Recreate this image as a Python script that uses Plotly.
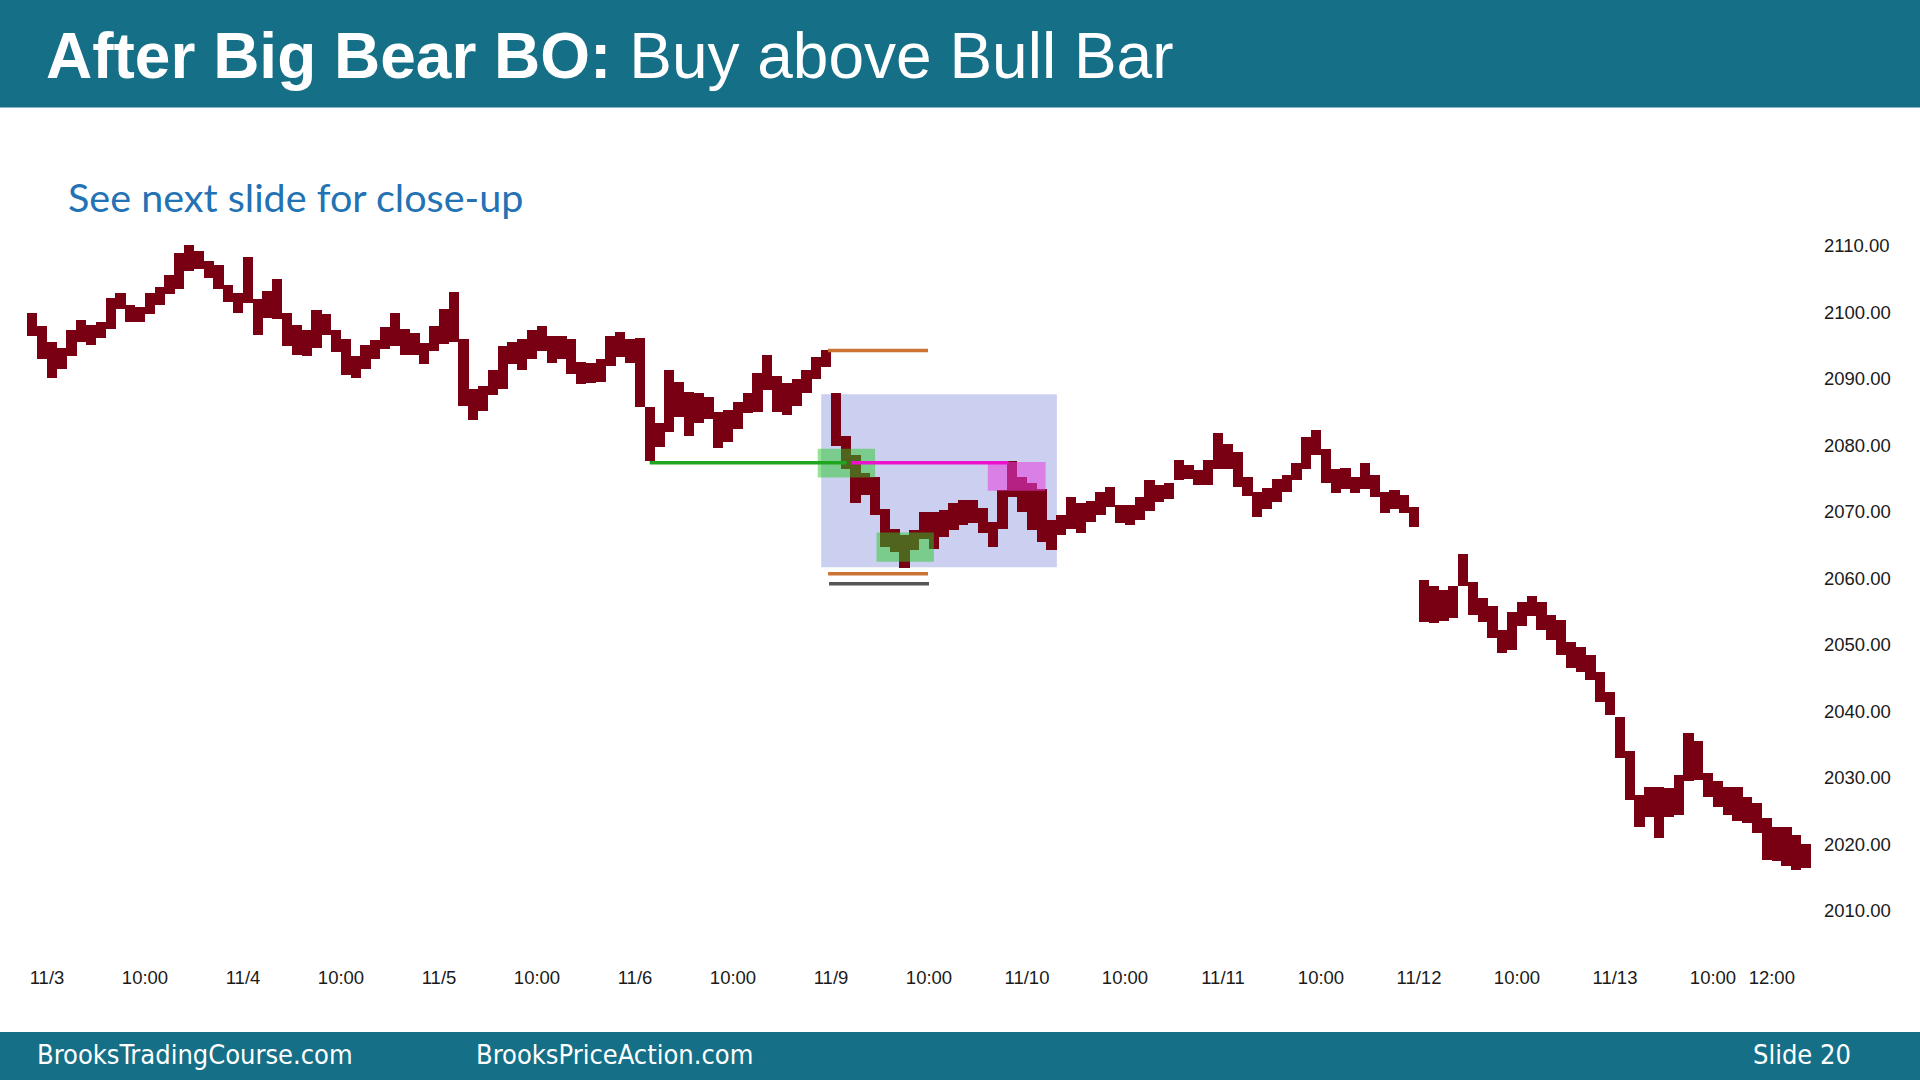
import plotly.graph_objects as go

# ---------------- data ----------------
DAYS = ['11/3', '11/4', '11/5', '11/6', '11/9', '11/10', '11/11', '11/12', '11/13']
BARS_PER_DAY = 20          # 20-minute bars
BAR_MINUTES = 20
SESSION_START_MIN = 6 * 60 + 40
TIME_TICKS = [('10:00', d) for d in range(len(DAYS))] + [('12:00', len(DAYS) - 1)]
Y_TICKS = [2010, 2020, 2030, 2040, 2050, 2060, 2070, 2080, 2090, 2100, 2110]

# tail of the prior session
hi_pre = [2099.9, 2098.0]
lo_pre = [2096.5, 2093.0]

hi_1103 = [2095.6, 2094.6, 2097.4, 2098.9, 2098.1, 2098.6, 2102.2, 2103.0, 2101.2, 2100.8,
           2102.9, 2103.9, 2105.6, 2108.9, 2110.1, 2109.2, 2107.8, 2107.2, 2104.2, 2103.0]
lo_1103 = [2090.1, 2091.5, 2093.5, 2095.6, 2095.1, 2096.2, 2097.5, 2100.5, 2098.5, 2098.6,
           2099.8, 2101.2, 2102.8, 2103.5, 2106.2, 2106.5, 2105.2, 2103.5, 2101.6, 2100.0]

hi_1104 = [2108.4, 2102.0, 2103.2, 2105.0, 2100.0, 2098.1, 2097.4, 2100.4, 2099.8, 2097.3,
           2096.0, 2093.4, 2095.1, 2095.8, 2097.8, 2099.9, 2097.5, 2096.9, 2095.4, 2098.0]
lo_1104 = [2101.5, 2096.6, 2099.2, 2099.0, 2095.0, 2093.6, 2093.5, 2094.6, 2096.6, 2094.1,
           2090.6, 2090.1, 2091.5, 2093.0, 2094.5, 2095.0, 2093.6, 2093.6, 2092.3, 2094.2]

hi_1105 = [2100.5, 2103.1, 2096.0, 2088.5, 2089.0, 2091.4, 2095.0, 2095.6, 2096.0, 2097.4,
           2097.9, 2096.4, 2096.5, 2096.0, 2092.6, 2092.4, 2093.0, 2096.5, 2097.0, 2096.0]
lo_1105 = [2095.2, 2095.5, 2086.0, 2083.8, 2085.2, 2087.6, 2088.5, 2092.2, 2091.4, 2093.0,
           2094.2, 2092.4, 2093.0, 2090.8, 2089.3, 2089.4, 2089.6, 2091.9, 2093.3, 2092.4]

hi_1106 = [2096.2, 2085.8, 2083.4, 2091.4, 2089.5, 2088.0, 2087.9, 2087.3, 2085.0, 2085.3,
           2086.5, 2087.9, 2090.9, 2093.6, 2090.5, 2089.4, 2090.0, 2091.4, 2093.3, 2094.3]
lo_1106 = [2085.8, 2077.6, 2079.8, 2082.0, 2084.3, 2081.5, 2083.4, 2084.0, 2079.6, 2080.5,
           2082.5, 2084.9, 2085.0, 2088.3, 2085.0, 2084.6, 2086.0, 2087.9, 2090.0, 2091.8]

hi_1109 = [2087.9, 2081.5, 2078.5, 2075.9, 2075.2, 2070.5, 2067.5, 2066.5, 2067.3, 2070.0,
           2070.0, 2070.3, 2071.4, 2071.8, 2071.8, 2070.6, 2068.5, 2073.3, 2077.6, 2075.3]
lo_1109 = [2080.0, 2076.5, 2071.4, 2072.5, 2069.5, 2064.7, 2064.0, 2061.6, 2064.3, 2066.0,
           2064.5, 2066.3, 2067.3, 2068.0, 2068.3, 2066.8, 2064.7, 2067.5, 2072.2, 2070.0]

hi_1110 = [2074.3, 2073.5, 2068.8, 2069.5, 2072.3, 2071.3, 2071.6, 2073.0, 2073.8, 2071.0,
           2071.0, 2072.3, 2074.8, 2074.0, 2074.3, 2077.8, 2077.1, 2076.3, 2077.8, 2081.9]
lo_1110 = [2067.3, 2065.5, 2064.3, 2066.5, 2067.5, 2066.9, 2068.5, 2069.5, 2070.8, 2068.3,
           2068.0, 2068.8, 2070.2, 2071.5, 2072.0, 2074.8, 2074.9, 2074.0, 2074.1, 2076.5]

hi_1111 = [2080.3, 2079.0, 2075.3, 2073.0, 2073.6, 2075.0, 2075.5, 2077.3, 2081.3, 2082.3,
           2079.5, 2076.4, 2076.6, 2075.3, 2077.3, 2075.5, 2073.0, 2073.3, 2072.6, 2070.8]
lo_1111 = [2076.5, 2073.8, 2072.4, 2069.3, 2070.5, 2071.5, 2073.0, 2074.8, 2076.5, 2078.5,
           2074.4, 2072.8, 2073.5, 2072.8, 2073.5, 2072.3, 2069.8, 2070.5, 2069.8, 2067.8]

hi_1112 = [2059.8, 2058.8, 2058.3, 2058.8, 2063.7, 2059.5, 2057.0, 2055.8, 2052.3, 2055.0,
           2056.5, 2057.3, 2056.5, 2054.5, 2053.8, 2050.5, 2049.7, 2048.5, 2046.0, 2043.0]
lo_1112 = [2053.5, 2053.3, 2053.6, 2054.0, 2058.8, 2054.5, 2053.5, 2051.0, 2048.8, 2049.2,
           2052.8, 2054.3, 2052.3, 2050.8, 2048.5, 2046.5, 2046.0, 2044.8, 2041.5, 2039.5]

hi_1113 = [2039.2, 2034.0, 2027.5, 2028.7, 2028.7, 2028.5, 2030.5, 2036.7, 2035.5, 2030.7,
           2029.5, 2028.7, 2028.7, 2027.2, 2026.2, 2024.0, 2022.7, 2022.7, 2021.5, 2020.0]
lo_1113 = [2033.0, 2026.7, 2022.7, 2024.2, 2021.0, 2024.2, 2024.5, 2029.5, 2029.7, 2027.2,
           2025.7, 2024.5, 2023.5, 2023.2, 2021.7, 2017.7, 2017.5, 2016.7, 2016.2, 2016.5]

# annotation levels (price) and spans (bar-index units)
LEVEL_BO_LOW = 2077.4        # green / magenta line
LEVEL_TOP_ORANGE = 2094.3
LEVEL_BOT_ORANGE = 2060.7
LEVEL_GRAY = 2059.2
BLUE_BOX = (78.5, 102.55, 2061.7, 2087.7)
GREEN_BOX_1 = (78.15, 84.0, 2075.2, 2079.5)
GREEN_BOX_2 = (84.15, 90.0, 2062.5, 2066.9)
PINK_BOX = (95.5, 101.4, 2073.2, 2077.5)
GREEN_LINE_SPAN = (61.0, 81.1)
PINK_LINE_SPAN = (81.6, 97.6)
ORANGE_SPAN = (79.2, 89.4)
GRAY_SPAN = (79.3, 89.5)

# ---------------- build ----------------
highs = hi_pre + hi_1103 + hi_1104 + hi_1105 + hi_1106 + hi_1109 + hi_1110 + hi_1111 + hi_1112 + hi_1113
lows = lo_pre + lo_1103 + lo_1104 + lo_1105 + lo_1106 + lo_1109 + lo_1110 + lo_1111 + lo_1112 + lo_1113
x_idx = [i - len(hi_pre) for i in range(len(highs))]


def time_x(day, hhmm):
    h, m = map(int, hhmm.split(':'))
    return day * BARS_PER_DAY + (h * 60 + m - SESSION_START_MIN) / BAR_MINUTES - 0.5


tickvals, ticktext = [], []
for d, lab in enumerate(DAYS):
    tickvals.append(d * BARS_PER_DAY - 0.5)
    ticktext.append(lab)
for lab, d in TIME_TICKS:
    tickvals.append(time_x(d, lab))
    ticktext.append(lab)

BAR_COLOR = '#780012'
TEAL = '#146F87'
FOOT_FONT = 'DejaVu Sans Condensed, Liberation Sans Narrow, Lato, sans-serif'

fig = go.Figure()
fig.add_trace(go.Bar(
    x=x_idx, base=lows, y=[h - l for h, l in zip(highs, lows)],
    width=1.03, marker=dict(color=BAR_COLOR, line=dict(width=0)),
    hoverinfo='skip', showlegend=False))

# plot-area geometry in pixels
L, R, T, B = 20, 1815, 180, 958
W, H = 1920, 1080


def px(xp):
    return (xp - L) / (R - L)


def py(yp):
    return (B - yp) / (B - T)


shapes = []
# blue zone (behind bars)
x0, x1, y0, y1 = BLUE_BOX
shapes.append(dict(type='rect', xref='x', yref='y', x0=x0, x1=x1, y0=y0, y1=y1,
                   fillcolor='rgba(140,150,222,0.45)', line=dict(width=0), layer='below'))
for (x0, x1, y0, y1), col in [(GREEN_BOX_1, 'rgba(40,200,40,0.5)'),
                              (GREEN_BOX_2, 'rgba(40,200,40,0.5)'),
                              (PINK_BOX, 'rgba(232,60,222,0.55)')]:
    shapes.append(dict(type='rect', xref='x', yref='y', x0=x0, x1=x1, y0=y0, y1=y1,
                       fillcolor=col, line=dict(width=0), layer='above'))
for (x0, x1), lvl, col in [(GREEN_LINE_SPAN, LEVEL_BO_LOW, '#1FA51F'),
                           (PINK_LINE_SPAN, LEVEL_BO_LOW, '#EE11CC'),
                           (ORANGE_SPAN, LEVEL_TOP_ORANGE, '#CC7433'),
                           (ORANGE_SPAN, LEVEL_BOT_ORANGE, '#CC7433'),
                           (GRAY_SPAN, LEVEL_GRAY, '#555555')]:
    shapes.append(dict(type='line', xref='x', yref='y', x0=x0, x1=x1, y0=lvl, y1=lvl,
                       line=dict(color=col, width=3.5), layer='above'))
# header and footer bands
shapes.append(dict(type='rect', xref='paper', yref='paper', x0=px(0), x1=px(W), y0=py(107.5), y1=py(0),
                   fillcolor=TEAL, line=dict(width=0), layer='above'))
shapes.append(dict(type='rect', xref='paper', yref='paper', x0=px(0), x1=px(W), y0=py(H), y1=py(1032),
                   fillcolor=TEAL, line=dict(width=0), layer='above'))

annotations = [
    dict(text='<b>After Big Bear BO:</b> Buy above Bull Bar', x=px(44), y=py(56),
         xref='paper', yref='paper', xanchor='left', yanchor='middle', showarrow=False,
         font=dict(family='Liberation Sans, Arial, sans-serif', size=64, color='white')),
    dict(text='See next slide for close-up', x=px(66), y=py(196), xref='paper', yref='paper',
         xanchor='left', yanchor='middle', showarrow=False,
         font=dict(family='Lato, sans-serif', size=39.5, color='#2272B4')),
    dict(text='BrooksTradingCourse.com', x=px(35), y=py(1054), xref='paper', yref='paper',
         xanchor='left', yanchor='middle', showarrow=False,
         font=dict(family=FOOT_FONT, size=27, color='white')),
    dict(text='BrooksPriceAction.com', x=px(474), y=py(1054), xref='paper', yref='paper',
         xanchor='left', yanchor='middle', showarrow=False,
         font=dict(family=FOOT_FONT, size=27, color='white')),
    dict(text='Slide', x=px(1751), y=py(1054), xref='paper', yref='paper',
         xanchor='left', yanchor='middle', showarrow=False,
         font=dict(family=FOOT_FONT, size=27, color='white')),
    dict(text='20', x=px(1853), y=py(1054), xref='paper', yref='paper',
         xanchor='right', yanchor='middle', showarrow=False,
         font=dict(family=FOOT_FONT, size=27, color='white')),
]

fig.update_layout(
    width=W, height=H,
    margin=dict(l=L, r=W - R, t=T, b=H - B, pad=0),
    paper_bgcolor='white', plot_bgcolor='white',
    shapes=shapes, annotations=annotations, showlegend=False,
    bargap=0,
    xaxis=dict(range=[-3.255, 179.91], showgrid=False, zeroline=False, showline=False,
               tickmode='array', tickvals=tickvals, ticktext=ticktext, ticks='',
               tickfont=dict(family='Liberation Sans, Arial, sans-serif', size=18.5, color='#1a1a1a'),
               ticklabelstandoff=6, automargin=False, fixedrange=True),
    yaxis=dict(range=[2002.93, 2119.925], side='right', showgrid=False, zeroline=False, showline=False,
               tickmode='array', tickvals=Y_TICKS, tickformat='.2f', ticks='',
               tickfont=dict(family='Liberation Sans, Arial, sans-serif', size=18.5, color='#1a1a1a'),
               ticklabelstandoff=8, automargin=False, fixedrange=True),
)

fig.write_html('out.html')
